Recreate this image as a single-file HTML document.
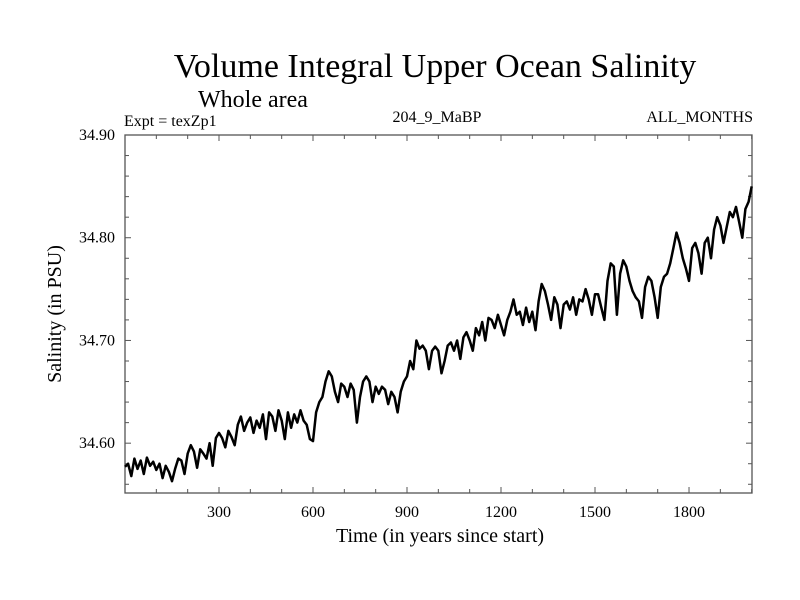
<!DOCTYPE html>
<html><head><meta charset="utf-8"><style>
body{margin:0;background:#fff;}
svg{display:block;font-family:"Liberation Serif",serif;}
</style></head><body>
<svg id="chart" width="800" height="600">
<text x="435" y="77" font-size="34" text-anchor="middle">Volume Integral Upper Ocean Salinity</text>
<text x="253" y="107" font-size="24" text-anchor="middle">Whole area</text>
<text x="124" y="126" font-size="16">Expt = texZp1</text>
<text x="437" y="122" font-size="16" text-anchor="middle">204_9_MaBP</text>
<text x="753" y="122" font-size="16" text-anchor="end">ALL_MONTHS</text>
<text x="440" y="542" font-size="20" text-anchor="middle">Time (in years since start)</text>
<text x="0" y="0" font-size="20" text-anchor="middle" transform="translate(61,314) rotate(-90)">Salinity (in PSU)</text>
<g id="axes"></g>
<path id="series" fill="none" stroke="#000" stroke-width="2.5" stroke-linejoin="round"></path>
</svg>
<script>
const startYear = 0;
const yearStep = 10;
const salinity = [
34.577,34.580,34.568,34.585,34.575,34.583,34.570,34.586,34.578,34.582,34.574,
34.580,34.566,34.578,34.572,34.563,34.575,34.585,34.583,34.570,34.590,
34.598,34.592,34.576,34.594,34.590,34.585,34.600,34.578,34.605,34.610,
34.605,34.596,34.612,34.606,34.598,34.618,34.626,34.612,34.620,34.625,
34.610,34.622,34.615,34.628,34.604,34.630,34.626,34.612,34.632,34.622,
34.604,34.630,34.615,34.628,34.620,34.632,34.622,34.618,34.604,34.602,
34.630,34.640,34.645,34.660,34.670,34.665,34.650,34.640,34.658,34.655,
34.645,34.658,34.652,34.620,34.645,34.660,34.665,34.660,34.640,34.655,
34.648,34.655,34.652,34.638,34.650,34.645,34.630,34.650,34.660,34.665,
34.680,34.672,34.700,34.692,34.695,34.690,34.672,34.690,34.694,34.690,
34.668,34.680,34.695,34.698,34.690,34.700,34.682,34.703,34.708,34.700,
34.690,34.712,34.705,34.718,34.700,34.722,34.720,34.712,34.725,34.715,
34.705,34.720,34.728,34.740,34.725,34.728,34.715,34.732,34.718,34.728,
34.710,34.738,34.755,34.748,34.735,34.720,34.742,34.735,34.712,34.735,
34.738,34.730,34.742,34.725,34.740,34.738,34.750,34.740,34.725,34.745,
34.745,34.732,34.720,34.758,34.775,34.772,34.725,34.765,34.778,34.772,
34.758,34.748,34.742,34.738,34.722,34.752,34.762,34.758,34.742,34.722,
34.752,34.762,34.765,34.775,34.790,34.805,34.795,34.780,34.770,34.758,
34.790,34.795,34.785,34.765,34.795,34.800,34.780,34.808,34.820,34.812,
34.795,34.810,34.825,34.820,34.830,34.815,34.800,34.828,34.835,34.850
];
const xTicks = [300,600,900,1200,1500,1800];
const xTickLabels = ["300","600","900","1200","1500","1800"];
const yTicks = [34.60,34.70,34.80,34.90];
const yTickLabels = ["34.60","34.70","34.80","34.90"];

const L=125,R=752,T=135,B=493, X0=0,X1=2001,Y0=34.5515,Y1=34.90;
const sx=v=>L+(v-X0)/(X1-X0)*(R-L);
const sy=v=>B-(v-Y0)/(Y1-Y0)*(B-T);
const NS="http://www.w3.org/2000/svg";
const g=document.getElementById('axes');
function mk(tag,attrs){const e=document.createElementNS(NS,tag);for(const k in attrs)e.setAttribute(k,attrs[k]);g.appendChild(e);return e;}
const frame=mk('rect',{x:L,y:T,width:R-L,height:B-T,fill:'none',stroke:'#555','stroke-width':1.3});


for(let yr=100;yr<X1;yr+=100){
  const big=yr%300===0, len=big?6:4;
  mk('line',{x1:sx(yr),x2:sx(yr),y1:B,y2:B-len,stroke:'#555'});
  mk('line',{x1:sx(yr),x2:sx(yr),y1:T,y2:T+len,stroke:'#555'});
}
for(let i=0;i<=17;i++){
  const v=34.56+i*0.02; if(v>34.9001)break;
  const big=Math.abs((v*100)%10)<0.01||Math.abs((v*100)%10-10)<0.01;
  const len=big?6:4;
  mk('line',{x1:L,x2:L+len,y1:sy(v),y2:sy(v),stroke:'#555'});
  mk('line',{x1:R,x2:R-len,y1:sy(v),y2:sy(v),stroke:'#555'});
}
xTicks.forEach((t,i)=>{
  const e=mk('text',{x:sx(t),y:B+24,'font-size':16,'text-anchor':'middle'});
  e.textContent=xTickLabels[i];
  
  
});
yTicks.forEach((t,i)=>{
  const e=mk('text',{x:L-10,y:sy(t)+5,'font-size':16,'text-anchor':'end'});
  e.textContent=yTickLabels[i];
  
  
});
let d='';
salinity.forEach((v,i)=>{const yr=startYear+i*yearStep;d+=(i?'L':'M')+sx(Math.min(yr,X1)).toFixed(1)+','+sy(v).toFixed(1);});
document.getElementById('series').setAttribute('d',d);
</script>
</body></html>
